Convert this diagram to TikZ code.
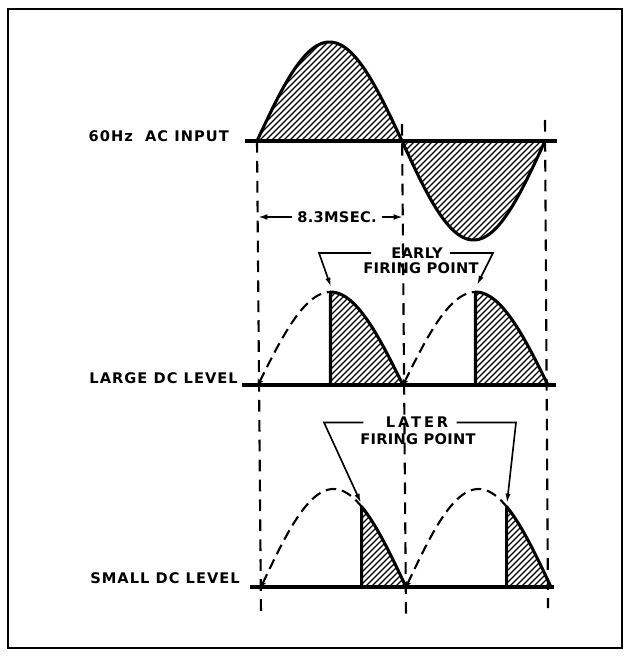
\documentclass[tikz,border=0pt]{standalone}
\usepackage{fontspec}
\usetikzlibrary{arrows.meta}
\newfontfamily\lblfont[LetterSpace=7]{DejaVu Sans}
\newfontfamily\tagfont[LetterSpace=2]{DejaVu Sans}
\newfontfamily\widefont[LetterSpace=20]{DejaVu Sans}

% fill a closed region with "/" hatching
\newcommand{\hatchin}[1]{%
  \begin{scope}
    \clip #1;
    \foreach \k in {-400,-394,...,520} \draw[hatch] (\k,656) -- ++(656,-656);
  \end{scope}}

\begin{document}
\begin{tikzpicture}[
  x=0.03cm, y=-0.03cm,
  lbl/.style={font=\lblfont\bfseries\fontsize{12.5}{13}\selectfont, inner sep=0pt},
  tag/.style={font=\tagfont\bfseries\fontsize{12.5}{13}\selectfont, inner sep=0pt},
  axis/.style={line width=2.8pt},
  wave/.style={line width=2.6pt, line join=round},
  ghost/.style={line width=1.8pt, dash pattern=on 9pt off 5pt},
  guide/.style={line width=1.8pt, dash pattern=on 10pt off 7pt},
  hatch/.style={line width=1.1pt},
  callout/.style={line width=1.4pt, -{Latex[length=8pt,width=4.5pt]}},
  dim/.style={line width=1.6pt, -{Latex[length=8pt,width=5pt]}},
  frame/.style={line width=2.2pt},
]
\useasboundingbox (0,0) rectangle (630,656);
\draw[frame] (8,9) rectangle (622,648);

% ---- 60Hz AC input ----
\hatchin{(257,141) -- plot[domain=0:180,samples=60] ({257+\x/180*145},{141-99*sin(\x)}) -- cycle}
\hatchin{(402,141) -- plot[domain=0:180,samples=60] ({402+\x/180*143},{141+99*sin(\x)}) -- cycle}
\draw[wave] plot[domain=0:180,samples=60] ({257+\x/180*145},{141-99*sin(\x)});
\draw[wave] plot[domain=0:180,samples=60] ({402+\x/180*143},{141+99*sin(\x)});
\draw[axis] (245,141) -- (557,141);
\node[lbl, anchor=base east] (acin) at (229,142) {60Hz\ \ AC INPUT};

% ---- dashed half-cycle guides ----
\draw[guide] (257,141) -- (261,615);
\draw[guide] (402,124) -- (406,617);
\draw[guide] (545,120) -- (548,608);

% ---- 8.3 msec ----
\node[tag, inner xsep=4pt] (msec) at (337,217) {8.3MSEC.};
\coordinate (dimL) at (258,217);
\coordinate (dimR) at (403,217);
\draw[dim] (msec.west) -- (dimL);
\draw[dim] (msec.east) -- (dimR);

% ---- large DC level: fired at the crest ----
\foreach \s in {258,403}{
  \draw[ghost, {Stealth[length=5pt,width=5pt]}-] plot[domain=0:90,samples=30] ({\s+\x/180*145},{385-93*sin(\x)});
  \hatchin{({\s+72.5},385) -- plot[domain=90:180,samples=30] ({\s+\x/180*145},{385-93*sin(\x)}) -- cycle}
  \draw[wave] ({\s+72.5},385) -- plot[domain=90:180,samples=30] ({\s+\x/180*145},{385-93*sin(\x)});
}
\draw[axis] (242,385) -- (556,385);
\node[lbl, anchor=base east] (large) at (238,383) {LARGE DC LEVEL};

\node[tag] (early) at (417,253) {EARLY};
\node[tag] (earlyfp) at (421,268.5) {FIRING POINT};
\coordinate (ekL) at (319,0);
\coordinate (ekR) at (493,0);
\coordinate (etL) at (331,287);
\coordinate (etR) at (477,285);
\draw[callout] ([xshift=-17pt]early.west) -- (early.west -| ekL) -- (etL);
\draw[callout] ([xshift=6pt]early.east) -- (early.east -| ekR) -- (etR);

% ---- small DC level: fired late ----
\foreach \s in {261,406}{
  \draw[ghost, {Stealth[length=5pt,width=5pt]}-] plot[domain=0:125,samples=40] ({\s+\x/180*145},{587-98*sin(\x)});
  \hatchin{({\s+100.7},587) -- plot[domain=125:180,samples=30] ({\s+\x/180*145},{587-98*sin(\x)}) -- cycle}
  \draw[wave] ({\s+100.7},587) -- plot[domain=125:180,samples=30] ({\s+\x/180*145},{587-98*sin(\x)});
}
\draw[axis] (250,587) -- (554,587);
\node[lbl, anchor=base east] (small) at (240,583) {SMALL DC LEVEL};

\node[tag, font=\widefont\bfseries\fontsize{12.5}{13}\selectfont] (later) at (417,422.5) {LATER};
\node[tag] (laterfp) at (418,439) {FIRING POINT};
\coordinate (lkL) at (324,0);
\coordinate (lkR) at (516,0);
\coordinate (ltL) at (361,503);
\coordinate (ltR) at (507,503);
\draw[callout] ([xshift=-19pt]later.west) -- (later.west -| lkL) -- (ltL);
\draw[callout] ([xshift=7pt]later.east) -- (later.east -| lkR) -- (ltR);
\end{tikzpicture}
\end{document}
